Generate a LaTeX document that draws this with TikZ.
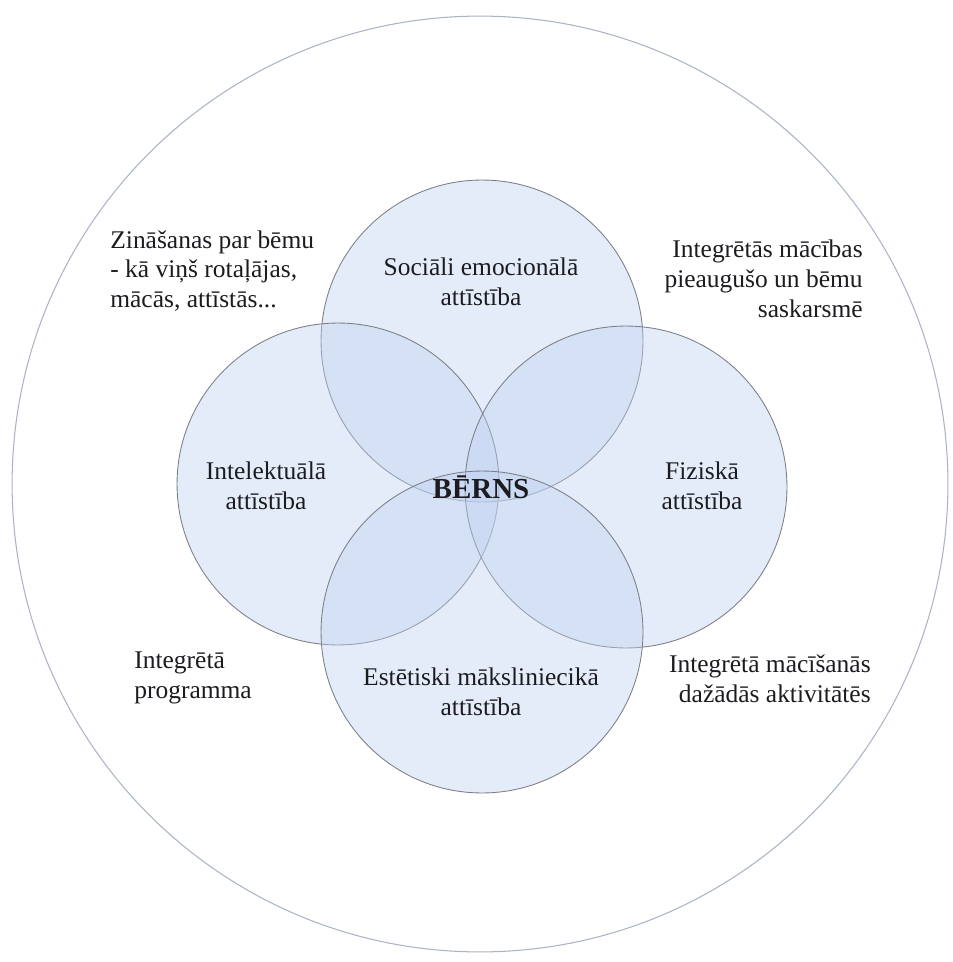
\documentclass[tikz,border=0pt]{standalone}
\usepackage{fontspec}
\setmainfont{Liberation Serif}
\usetikzlibrary{positioning}
\definecolor{ringgray}{RGB}{170,180,196}
\definecolor{petalfill}{RGB}{190,208,240}
\definecolor{petalline}{RGB}{125,128,135}
\definecolor{inktext}{RGB}{28,28,32}

\begin{document}
\begin{tikzpicture}[x=0.02cm,y=-0.02cm]
\useasboundingbox (0,0) rectangle (952,962);
\begin{scope}[every node/.style={circle,draw=ringgray,line width=0.6pt,minimum size=18.72cm,inner sep=0pt}]
    \node (ring) at (480,484) {};
\end{scope}
\begin{scope}[every node/.style={circle,draw=petalline,line width=0.5pt,fill=petalfill,fill opacity=0.4,minimum size=6.44cm,inner sep=0pt}]
    \node (social) at (482,341) {};
    \node (intellect) at (338,484) {};
    \node (physical) at (626,487) {};
    \node (aesthetic) at (482,632) {};
\end{scope}
\begin{scope}[every node/.style={text=inktext,font=\fontsize{14.5}{17}\selectfont,inner sep=0pt}]
    \node[align=center] (socialtxt) at (481,282) {Sociāli emocionālā\\attīstība};
    \node[align=center] (intellecttxt) at (266,486) {Intelektuālā\\attīstība};
    \node[align=center] (physicaltxt) at (702,486) {Fiziskā\\attīstība};
    \node[align=center] (aesthetictxt) at (481,692) {Estētiski māksliniecikā\\attīstība};
    \node[font=\fontsize{16.5}{17}\selectfont\bfseries] (child) at (481,487) {BĒRNS};
    \node[align=left,anchor=west] (knowledge) at (110,271) {Zināšanas par bēmu\\- kā viņš rotaļājas,\\mācās, attīstās...};
    \node[align=right,anchor=east] (teaching) at (863,279) {Integrētās mācības\\pieaugušo un bēmu\\saskarsmē};
    \node[align=left,anchor=west] (programme) at (134,678) {Integrētā\\programma};
    \node[align=right,anchor=east] (activities) at (871,679) {Integrētā mācīšanās\\dažādās aktivitātēs};
\end{scope}
\end{tikzpicture}
\end{document}
